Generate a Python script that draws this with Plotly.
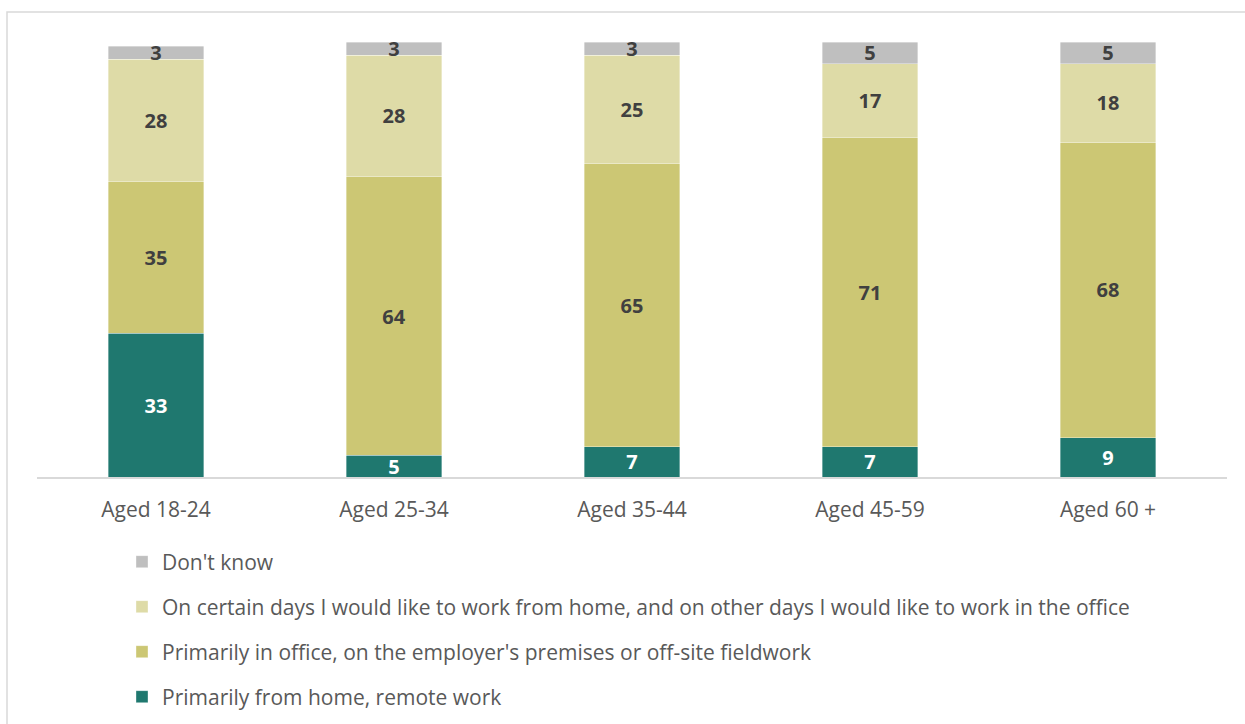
import plotly.graph_objects as go

# Age groups along the x axis
age_groups = ["Aged 18-24", "Aged 25-34", "Aged 35-44", "Aged 45-59", "Aged 60 +"]

# Share of respondents (%) per preferred work arrangement
remote_home = [33, 5, 7, 7, 9]
in_office = [35, 64, 65, 71, 68]
hybrid_days = [28, 28, 25, 17, 18]
dont_know = [3, 3, 3, 5, 5]

# (legend name, values, fill colour, label colour, legend id, legend row centre in px)
series = [
    ("Primarily from home, remote work", remote_home, "#1F786F", "#FFFFFF", "legend4", 697),
    ("Primarily in office, on the employer's premises or off-site fieldwork", in_office,
     "#CCC774", "#404040", "legend3", 652),
    ("On certain days I would like to work from home, and on other days I would like to work in the office",
     hybrid_days, "#DEDBA7", "#404040", "legend2", 607),
    ("Don't know", dont_know, "#BFBFBF", "#404040", "legend", 562),
]

FONT = "Open Sans"
LABEL_SIZE = 20

# Plot area geometry (pixels) used to place the frame and legends in paper units
W, H = 1245, 724
ML, MR, MT, MB = 37, 18, 42, 247
pw = W - ML - MR
ph = H - MT - MB


def px_x(px):
    return (px - ML) / pw


def px_y(py):
    return (H - MB - py) / ph


fig = go.Figure()
legends = {}
for name, values, color, text_color, legend_id, row_y in series:
    fig.add_trace(go.Bar(
        x=age_groups,
        y=values,
        name=name,
        legend=legend_id,
        marker=dict(color=color, line=dict(color="rgba(255,255,255,0.6)", width=0.6)),
        text=values,
        texttemplate="<b>%{text}</b>",
        textposition="inside",
        insidetextanchor="middle",
        textangle=0,
        textfont=dict(family=FONT, size=LABEL_SIZE, color=text_color),
        hoverinfo="x+y+name",
    ))
    # one single-entry legend per series, stacked below the chart
    legends[legend_id] = dict(
        orientation="v",
        x=px_x(122),
        xanchor="left",
        y=px_y(row_y),
        yanchor="middle",
        font=dict(family=FONT, size=21, color="#595959"),
        bgcolor="rgba(0,0,0,0)",
    )

fig.update_layout(
    width=W,
    height=H,
    barmode="stack",
    bargap=0.597,
    plot_bgcolor="white",
    paper_bgcolor="white",
    margin=dict(l=ML, r=MR, t=MT, b=MB, autoexpand=False),
    font=dict(family=FONT, color="#595959"),
    uniformtext=dict(minsize=LABEL_SIZE, mode="show"),
    xaxis=dict(
        showline=True,
        linecolor="#D9D9D9",
        linewidth=1.5,
        ticks="",
        ticklabelstandoff=13,
        tickfont=dict(size=21, color="#595959"),
        showgrid=False,
        automargin=False,
    ),
    yaxis=dict(
        range=[0, 100],
        visible=False,
        showgrid=False,
    ),
    showlegend=True,
    shapes=[
        dict(
            type="rect",
            xref="paper", yref="paper",
            x0=px_x(7), x1=px_x(1260),
            y0=px_y(740), y1=px_y(12),
            line=dict(color="#D9D9D9", width=1.5),
            fillcolor="rgba(0,0,0,0)",
            layer="below",
        )
    ],
    **legends,
)

fig.write_html("out.html")
